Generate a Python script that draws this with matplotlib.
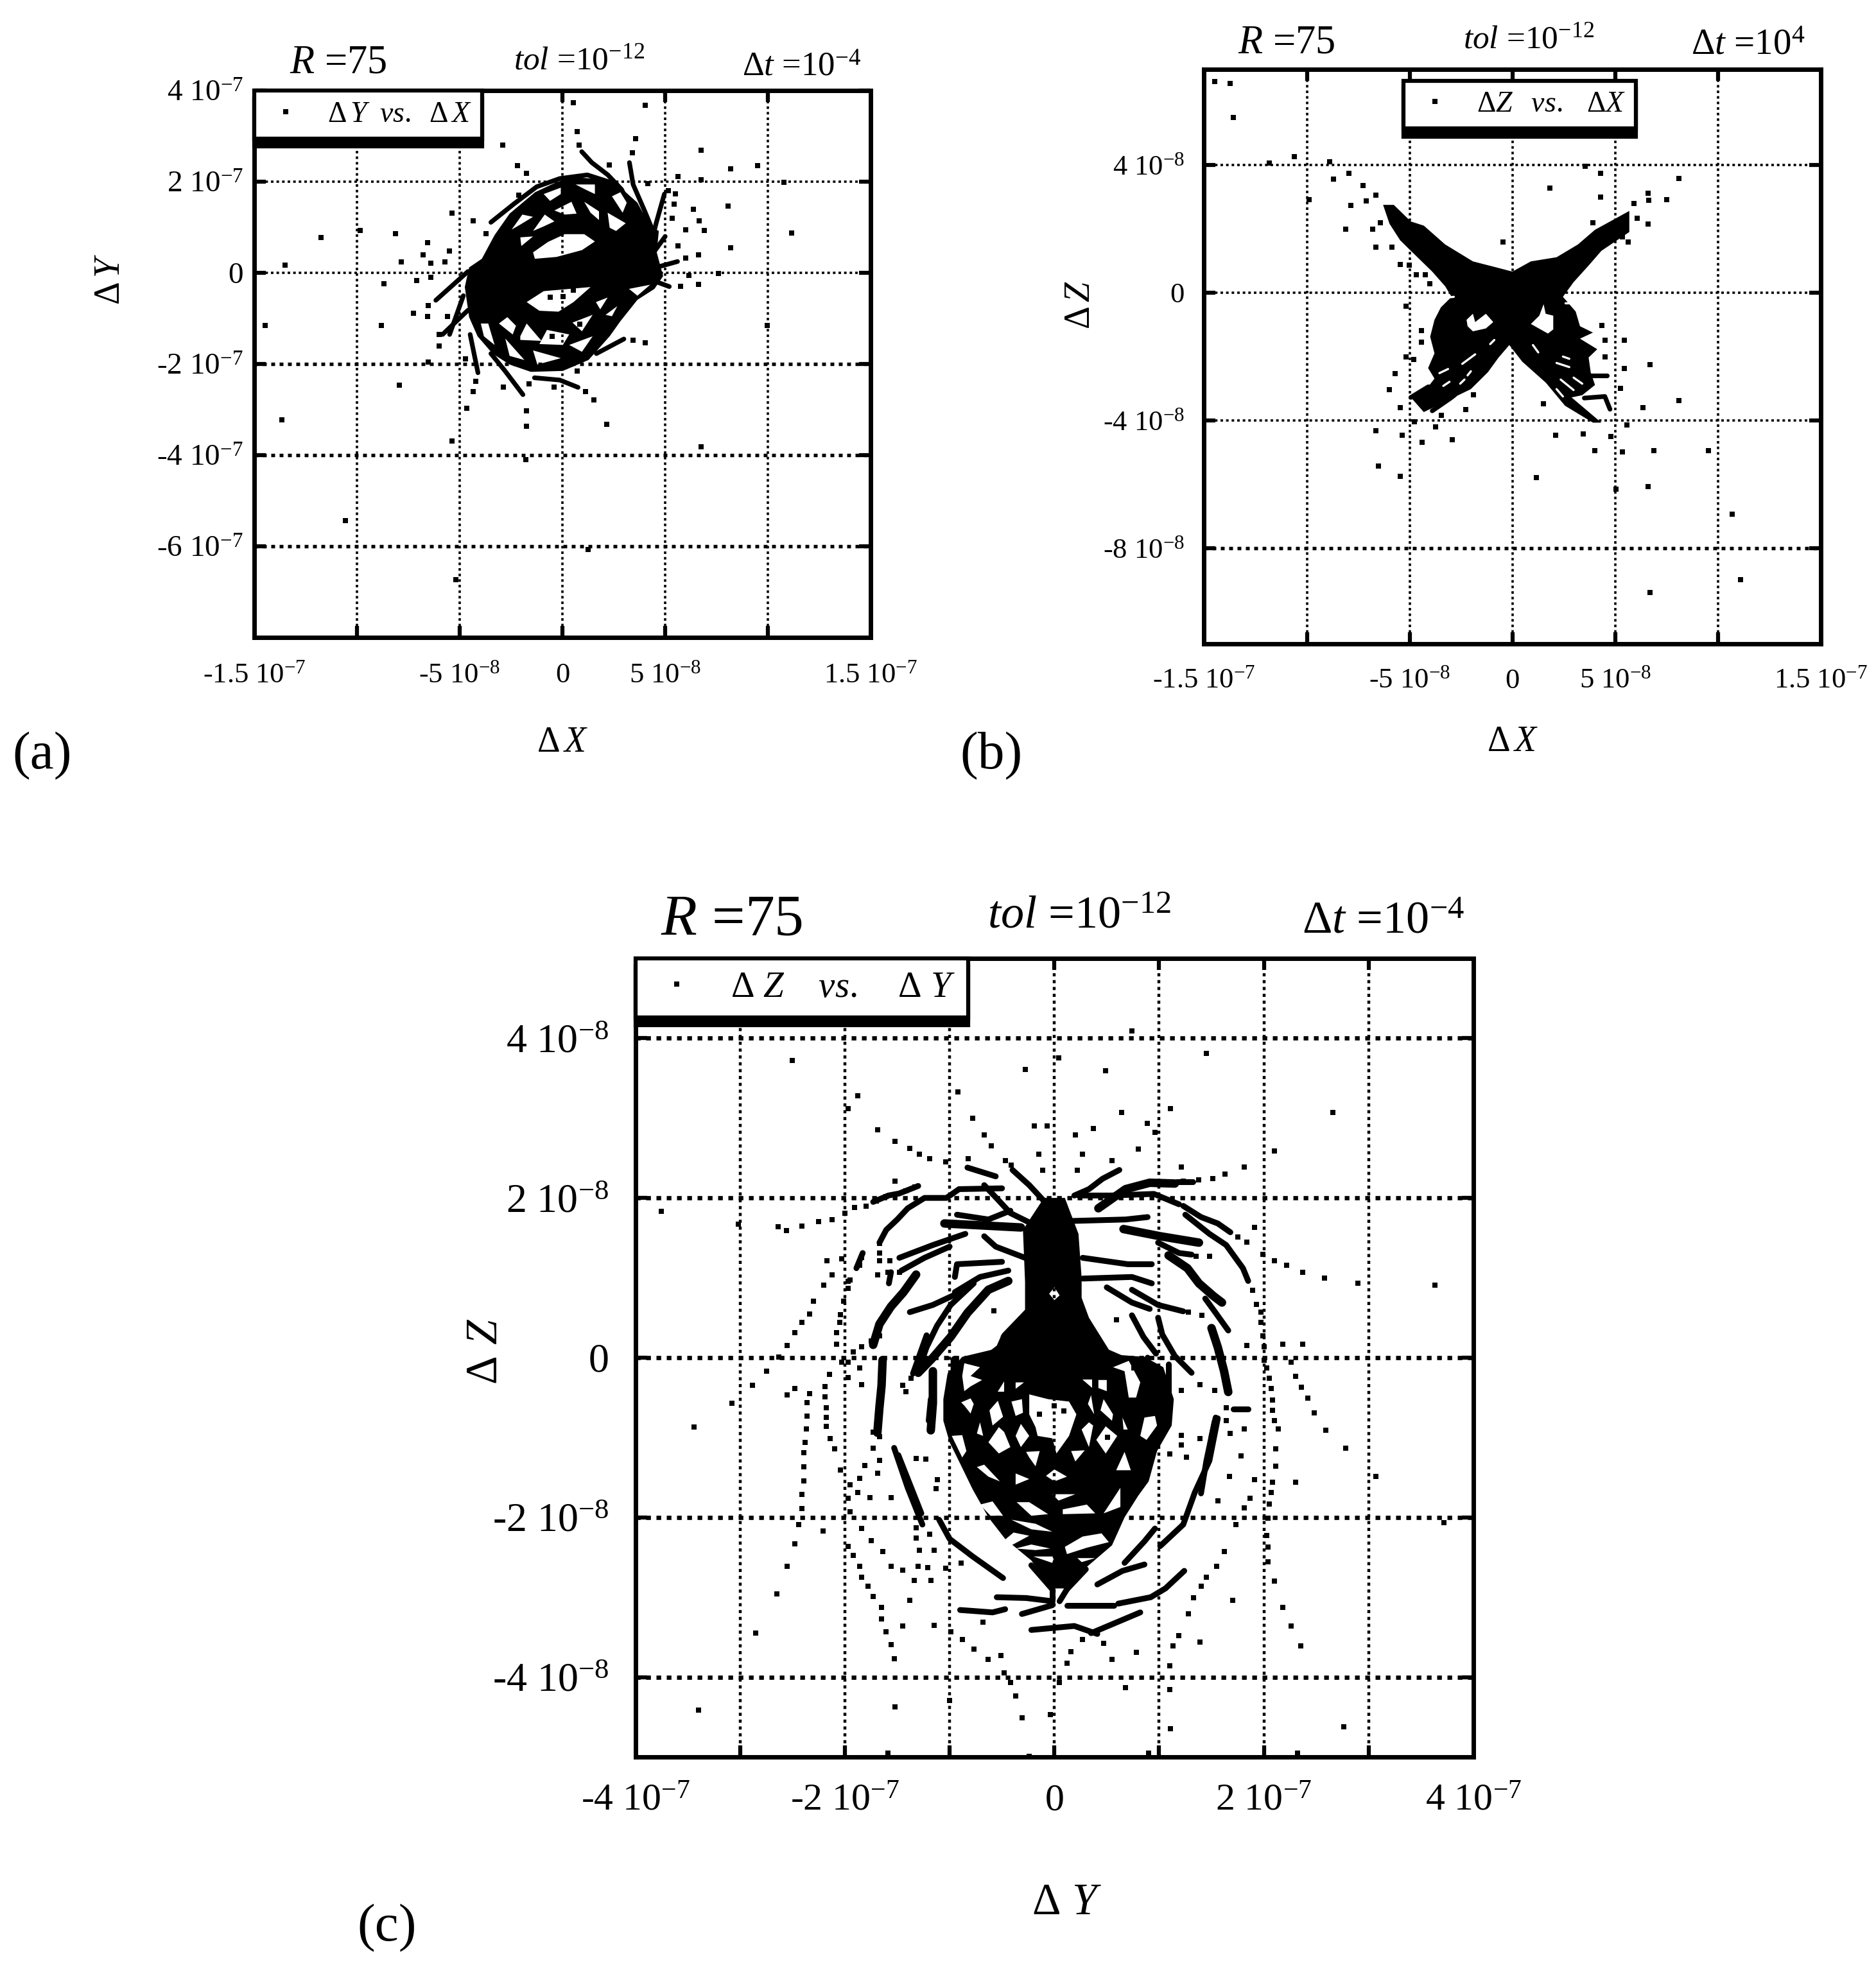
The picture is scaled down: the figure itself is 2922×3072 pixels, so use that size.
import numpy as np
import matplotlib
matplotlib.use('Agg')
import matplotlib.pyplot as plt

plt.rcParams['font.family'] = ['Liberation Serif', 'DejaVu Serif']
plt.rcParams['mathtext.fontset'] = 'custom'
plt.rcParams['mathtext.rm'] = 'Liberation Serif'
plt.rcParams['mathtext.it'] = 'Liberation Serif:italic'
plt.rcParams['mathtext.bf'] = 'Liberation Serif:bold'

# panel (a): dY vs dX, x in 1e-8, y in 1e-7
a_points = [(0.54, 3.74), (4.04, 3.67), (0.71, 3.1), (3.55, 2.94), (0.8, 2.81), (-2.9, 2.81), (3.4, 2.63),
            (6.75, 2.69), (-2.19, 2.35), (2.28, 2.37), (8.18, 2.29), (9.5, 2.35), (-1.74, 2.19), (5.63, 2.12),
            (6.75, 2.04), (10.77, 1.99), (4.15, 1.96), (-2.14, 1.71), (5.14, 1.81), (5.5, 1.73), (5.45, 1.51),
            (8.06, 1.47), (6.37, 1.4), (-5.38, 1.31), (-4.33, 1.14), (-3.71, 0.86), (5.34, 1.2), (6.66, 1.14),
            (6.9, 0.93), (6.0, 0.94), (11.15, 0.88), (-11.75, 0.78), (-9.85, 0.93), (-8.11, 0.86), (-6.57, 0.67),
            (8.18, 0.55), (5.63, 0.59), (-6.77, 0.39), (-5.49, 0.48), (-7.84, 0.24), (-6.39, 0.22), (-13.49, 0.17),
            (6.63, 0.39), (6.0, 0.33), (-5.72, 0.24), (7.6, -0.01), (6.16, -0.05), (-8.67, -0.24), (-7.1, -0.16),
            (-6.39, -0.1), (6.63, -0.25), (5.74, -0.29), (-6.54, -0.71), (-7.26, -0.89), (-6.57, -0.96),
            (-5.6, -0.96), (-14.45, -1.15), (-8.82, -1.15), (9.96, -1.15), (-5.99, -1.35), (-5.99, -1.61),
            (4.04, -1.53), (3.44, -1.47), (-6.54, -1.95), (-4.71, -1.88), (0.71, -2.15), (-7.93, -2.46),
            (-4.22, -2.38), (-4.33, -2.6), (-2.88, -2.5), (-1.63, -2.43), (-0.4, -2.5), (1.12, -2.6), (1.54, -2.79),
            (-4.67, -2.97), (-1.74, -3.02), (-1.74, -3.37), (2.14, -3.32), (-13.65, -3.22), (-5.38, -3.69),
            (6.75, -3.81), (-1.79, -4.1), (-10.56, -5.44), (1.25, -6.06), (-5.18, -6.73),
            (-0.6, -0.54), (0.02, -0.52), (0.54, -0.38), (-0.5, -1.39), (0.85, -1.13)]
a_strands = [[(-3.48, 1.11), (-2.37, 1.51), (-1.25, 1.89), (-0.13, 2.07), (1.21, 2.15), (2.32, 1.99), (3.44, 1.51), (4.33, 0.99)],
             [(0.94, 2.66), (1.43, 2.42), (2.21, 2.15), (2.88, 1.83), (3.44, 1.3), (4.0, 0.88)],
             [(3.26, 2.42), (3.44, 1.94), (4.0, 1.36), (4.44, 0.88)],
             [(4.96, 1.73), (4.56, 1.09), (4.22, 0.46)],
             [(-3.48, -1.77), (-2.81, -2.14), (-1.92, -2.67)],
             [(-1.36, -2.3), (-0.13, -2.35), (0.76, -2.51)],
             [(-4.49, -1.35), (-4.11, -2.19)],
             [(-6.16, -0.6), (-4.6, 0.03)],
             [(-5.83, -1.35), (-4.6, -0.82)],
             [(-5.49, -1.35), (-4.82, -0.5)],
             [(1.65, -1.77), (2.99, -1.45)],
             [(5.0, 0.8), (4.2, 0.3)], [(5.6, 0.25), (4.4, 0.1)], [(5.2, -0.3), (4.0, -0.1)]]
a_blob = [(-4.54, 0.12), (-3.92, 0.31), (-3.3, 0.83), (-2.57, 1.3), (-1.33, 1.77), (-0.29, 1.99), (0.54, 2.1), (1.78, 2.06),
          (2.61, 1.96), (3.65, 1.54), (4.27, 1.02), (4.69, 0.92), (4.59, 0.45), (4.9, -0.07), (4.48, -0.35), (3.65, -0.59),
          (2.82, -1.06), (2.3, -1.39), (1.27, -1.91), (0.02, -2.15), (-1.54, -2.17), (-2.57, -2.01), (-3.4, -1.77),
          (-4.13, -1.39), (-4.54, -0.97), (-4.75, -0.31)]
a_holes = [[(-1.43, 0.45), (-0.7, 0.68), (0.12, 0.85), (1.06, 0.85), (1.58, 0.69), (0.95, 0.5), (-0.29, 0.35), (-1.34, 0.31)],
           [(-1.74, -0.64), (-0.91, -0.4), (1.37, -0.31), (0.54, -0.64), (-0.19, -0.85), (-1.12, -0.83)],
           [(-0.91, 1.73), (-0.08, 1.87), (-0.08, 1.73), (-0.6, 1.58)], [(0.64, 1.94), (1.58, 1.94), (1.58, 1.73), (1.16, 1.82)],
           [(2.41, 1.68), (2.82, 1.77), (3.13, 1.54), (2.93, 1.32)], [(-0.39, 1.37), (0.44, 1.56), (0.69, 1.3), (0.12, 1.28)],
           [(1.06, 1.56), (1.78, 1.35), (1.78, 1.16), (1.37, 1.32)], [(2.2, 1.32), (3.08, 1.09), (2.61, 0.92), (2.3, 0.99)],
           [(-2.47, 0.95), (-1.95, 1.28), (-1.43, 1.23), (-2.05, 1.06)], [(-1.43, 0.92), (-0.86, 1.28), (-0.39, 1.13), (-0.91, 1.02)],
           [(-2.05, 0.78), (-1.43, 0.8), (-2.0, 0.59)], [(-3.09, -1.11), (-2.68, -0.97), (-2.26, -1.16), (-2.42, -1.35)],
           [(-2.05, -1.39), (-1.74, -1.11), (-1.02, -1.49), (-2.05, -1.47)], [(-0.75, -1.25), (0.33, -1.35), (0.02, -1.58), (-1.12, -1.56)],
           [(-3.97, -1.11), (-3.61, -1.11), (-3.3, -1.58), (-3.82, -1.39)], [(0.49, -1.09), (1.47, -0.92), (0.95, -1.28)],
           [(1.63, -0.64), (2.2, -0.54), (1.84, -0.8)], [(2.1, -0.92), (2.67, -0.73), (2.41, -0.95)],
           [(3.24, -0.35), (4.27, -0.26), (3.65, -0.5)], [(0.33, -1.58), (1.47, -1.39), (0.95, -1.73)],
           [(-2.78, -1.44), (-1.85, -1.91), (-2.57, -1.82)], [(-1.43, -1.7), (-0.08, -1.87), (-1.22, -2.01)],
           [(-4.23, -1.35), (-3.4, -1.73), (-3.9, -1.5)]]

# panel (b): dZ vs dX, x in 1e-8, y in 1e-8
b_points = [(-14.47, 6.61), (-13.74, 6.55), (-13.58, 5.49), (-11.84, 4.06), (-10.61, 4.26), (-8.89, 4.11),
            (-8.69, 3.56), (-7.97, 3.73), (-9.9, 2.91), (-7.28, 3.35), (-6.63, 3.05), (-7.1, 2.87), (-7.86, 2.73),
            (-8.11, 1.99), (-6.79, 1.98), (-6.43, 2.19), (-6.63, 1.42), (-5.85, 1.42), (-5.47, 0.89), (-5.03, 0.86),
            (-4.69, 0.56), (-4.24, 0.56), (-4.02, 0.29), (-0.45, 1.58), (1.83, 3.28), (4.29, 3.0), (4.29, 3.73),
            (3.53, 3.95), (8.09, 3.58), (7.5, 2.91), (6.59, 3.12), (6.63, 2.9), (5.92, 2.79), (6.08, 2.34),
            (6.59, 2.16), (5.65, 1.58), (5.36, 1.74), (3.91, 2.19), (4.36, -1.03), (4.51, -1.48), (5.45, -1.48),
            (4.51, -2.01), (5.45, -2.37), (6.7, -2.26), (6.34, -3.59), (8.09, -3.38), (5.58, -4.14), (5.25, -3.0),
            (3.46, -4.42), (2.12, -4.47), (4.02, -4.95), (4.78, -4.5), (5.36, -4.98), (6.88, -4.95), (9.54, -4.95),
            (5.03, -6.16), (6.61, -6.07), (1.16, -5.8), (10.7, -6.93), (11.1, -8.98), (6.7, -9.39), (1.52, -3.47),
            (-6.63, -4.33), (-5.36, -4.47), (-4.38, -4.68), (-2.93, -4.6), (-3.75, -4.2), (-4.76, -4.05),
            (-5.45, -3.59), (-5.99, -3.03), (-5.7, -2.54), (-6.52, -5.42), (-5.47, -5.75), (-2.28, -3.65),
            (-1.9, -3.2), (-3.46, -3.85), (-5.18, -2.01), (-4.42, -1.18), (-4.42, -1.55), (-4.8, -2.1), (-5.18, -0.42)]
b_strands = [[(-4.94, -3.28), (-4.1, -2.95), (-2.5, -2.95)], [(-3.9, -3.7), (-3.0, -3.3), (-2.8, -3.2)],
             [(3.5, -3.3), (4.5, -3.25), (4.75, -3.65)], [(3.6, -2.6), (4.6, -2.6)]]
b_blob = [(-6.29, 2.75), (-5.77, 2.75), (-4.94, 2.23), (-4.31, 2.1), (-3.27, 1.51), (-1.92, 0.98), (-0.77, 0.79), (0.0, 0.66),
          (0.9, 0.98), (2.15, 1.11), (3.19, 1.51), (4.02, 1.97), (5.69, 2.56), (5.69, 1.9), (4.33, 1.31), (3.71, 0.85),
          (2.98, 0.33), (2.46, -0.13), (3.08, -0.59), (3.29, -1.05), (3.92, -1.25), (3.29, -1.44), (4.13, -1.77), (3.71, -2.03),
          (3.81, -2.49), (4.02, -2.89), (3.4, -3.21), (2.88, -3.28), (4.33, -4.07), (3.92, -4.07), (2.56, -3.54), (1.63, -2.82),
          (0.48, -2.16), (-0.15, -1.64), (-0.67, -2.03), (-1.19, -2.49), (-2.02, -3.02), (-2.85, -3.28), (-4.31, -3.74),
          (-4.94, -3.28), (-4.1, -2.95), (-3.79, -2.69), (-4.1, -2.36), (-3.79, -1.9), (-4.0, -1.38), (-3.79, -0.85),
          (-3.48, -0.46), (-2.96, -0.13), (-3.27, 0.2), (-3.9, 0.66), (-4.73, 1.18), (-5.46, 1.64), (-5.98, 2.16)]
b_holes = [[(-2.23, -0.85), (-1.92, -0.66), (-1.81, -0.92), (-1.29, -0.66), (-0.93, -0.92), (-1.29, -1.12), (-1.92, -1.21), (-2.18, -1.05)],
           [(1.52, -0.36), (1.62, -0.66), (1.99, -0.72), (1.99, -1.15), (1.73, -1.28), (0.9, -0.98), (1.31, -0.72)]]
b_streaks = [[(-2.44, -2.23), (-1.81, -1.93)], [(-1.08, -1.61), (-0.88, -1.48)], [(-3.55, -2.52), (-3.13, -2.39)],
             [(-3.36, -2.92), (-3.06, -2.79)], [(-2.54, -2.85), (-2.33, -2.72)], [(-2.18, -2.59), (-2.02, -2.46)],
             [(2.15, -2.2), (2.77, -2.33)], [(2.46, -2.0), (2.77, -2.07)], [(2.35, -2.72), (2.98, -3.05)],
             [(2.98, -2.66), (3.4, -2.85)], [(1.0, -1.64), (1.26, -1.87)], [(2.15, -3.02), (2.46, -3.25)],
             [(-3.32, -0.16), (-2.85, -0.13)], [(2.56, -0.16), (3.08, -0.16)], [(2.56, -0.33), (2.98, -0.33)], [(3.29, -0.66), (3.29, -0.92)]]

# panel (c): dZ vs dY, x in 1e-7, y in 1e-8
c_points = [(0.74, 4.09), (1.45, 3.81), (-2.5, 3.72), (0.04, 3.75), (-0.28, 3.61), (0.49, 3.59), (-0.92, 3.33),
            (-1.88, 3.28), (-1.97, 3.12), (1.11, 3.12), (0.64, 3.07), (2.66, 3.07), (-0.78, 3.0), (-0.19, 2.9),
            (-0.07, 2.9), (0.37, 2.87), (0.89, 2.93), (0.96, 2.82), (-1.69, 2.85), (-0.67, 2.79), (0.2, 2.79),
            (-1.52, 2.71), (-1.38, 2.62), (-0.6, 2.65), (2.1, 2.59), (0.8, 2.61), (-0.15, 2.55), (0.27, 2.55),
            (-1.29, 2.55), (-1.19, 2.49), (-0.82, 2.49), (-1.04, 2.45), (-0.47, 2.47), (0.55, 2.47), (1.81, 2.39),
            (1.21, 2.39), (1.63, 2.3), (1.51, 2.24), (1.38, 2.23), (1.23, 2.21), (-1.52, 2.21), (-0.11, 2.35),
            (-0.41, 2.41), (0.22, 2.35), (-3.75, 1.83), (-3.02, 1.67), (-2.64, 1.64), (-2.56, 1.59), (-2.41, 1.65),
            (-2.25, 1.7), (-2.12, 1.73), (-2.0, 1.81), (-1.91, 1.88), (-1.8, 1.9), (-1.7, 1.96), (-1.61, 2.02),
            (-1.51, 2.05), (-1.42, 2.09), (-1.33, 2.14), (0.0, -0.6), (0.09, -0.67), (-0.14, -0.71), (0.51, -1.0), (0.76, -0.13)]
c_left_arcs = [(-2.17, 1.21), (-2.03, 1.24), (-2.12, 1.04), (-1.97, 0.96), (-2.2, 0.91), (-2.3, 0.71), (-2.34, 0.55),
               (-2.41, 0.44), (-2.48, 0.31), (-2.55, 0.15), (-2.63, 0.01), (-2.75, -0.17), (-2.88, -0.35), (-3.08, -0.57),
               (-3.44, -0.87), (-1.84, 1.25), (-1.86, 1.16), (-1.95, 0.97), (-1.97, 0.87), (-2.01, 0.71), (-2.04, 0.54),
               (-2.05, 0.44), (-2.08, 0.31), (-2.08, 0.17), (-2.03, -0.06), (-1.97, -0.06), (-2.15, -0.21), (-1.97, -0.25),
               (-2.19, -0.36), (-2.19, -0.49), (-2.18, -0.63), (-2.18, -0.75), (-2.18, -0.86), (-2.14, -1.01), (-2.1, -1.14),
               (-2.04, -1.41), (-1.95, -1.59), (-1.86, -1.51), (-1.97, -1.76), (-1.88, -1.69), (-1.76, -1.75), (-1.56, -1.75),
               (-1.95, -1.93), (-2.34, -0.45), (-2.48, -0.39), (-2.55, -0.47), (-2.36, -0.56), (-2.36, -0.73), (-2.37, -0.89),
               (-2.38, -1.06), (-2.39, -1.19), (-2.39, -1.37), (-2.39, -1.54), (-2.41, -1.71), (-2.41, -1.89), (-2.44, -2.09),
               (-2.48, -2.33), (-2.55, -2.61), (-2.65, -2.96), (-2.85, -3.45), (-3.4, -4.41), (-1.32, -1.26), (-1.23, -1.27),
               (-1.12, -1.53), (-1.13, -1.64), (-1.81, -1.35), (-1.69, -1.45), (-1.67, -1.29), (-1.73, -1.13), (-1.67, -0.99),
               (-1.73, -0.93), (-1.84, -0.34), (-1.86, -0.13), (-1.45, -0.35), (-1.42, -0.43), (-1.37, -0.26), (-1.67, 0.27),
               (-1.75, 0.21), (-1.84, 0.14), (-1.92, 0.07), (-1.67, 1.43), (-1.67, 1.31), (-1.67, 1.21), (-1.69, 1.04),
               (-1.57, 1.21), (-1.59, 1.07), (-1.48, 1.07), (-0.58, 0.59), (0.59, 0.47), (-1.32, -2.13), (-1.32, -2.26),
               (-1.19, -2.21), (-1.29, -2.41), (-1.15, -2.41), (-0.89, -2.57), (-1.04, -2.64), (-1.3, -2.61), (-1.21, -2.63)]
c_low_arcs = [(-1.84, -2.14), (-1.97, -2.36), (-1.92, -2.48), (-1.86, -2.61), (-1.84, -2.75), (-1.78, -2.86), (-1.73, -2.99),
              (-1.65, -3.13), (-1.65, -3.27), (-1.61, -3.43), (-1.56, -3.59), (-1.53, -3.77), (-1.52, -4.37), (-1.59, -4.95),
              (-1.75, -2.29), (-1.64, -2.43), (-1.56, -2.61), (-1.45, -2.66), (-1.34, -2.79), (-1.18, -2.79), (-1.38, -3.04),
              (-1.45, -3.36), (-1.15, -3.35), (-0.99, -3.43), (-0.88, -3.53), (-0.77, -3.65), (-0.63, -3.78), (-0.51, -3.73),
              (-0.48, -3.95), (-0.42, -4.07), (-0.37, -4.24), (-0.31, -4.51), (-0.04, -4.47), (-1.0, -4.29), (-0.24, -4.99),
              (0.05, -4.07), (-0.68, -3.31), (-2.21, -2.17), (0.12, -3.83), (0.16, -3.68), (0.27, -3.53), (0.47, -3.58),
              (0.55, -3.78), (0.78, -3.69), (1.1, -3.86), (0.68, -4.13), (1.1, -4.16), (1.11, -4.65), (0.9, -4.95),
              (1.13, -3.61), (1.19, -3.48), (1.39, -3.56), (1.28, -3.21), (1.33, -3.01), (1.4, -2.86), (1.45, -2.75),
              (1.55, -2.61), (1.62, -2.43), (1.7, -3.04), (1.73, -2.09), (1.81, -1.88), (1.87, -1.76), (1.91, -1.53)]
c_right_arcs = [(2.08, -1.56), (2.07, -1.69), (2.05, -1.83), (2.04, -2.01), (2.03, -2.23), (2.04, -2.37), (2.04, -2.56),
                (2.1, -2.8), (2.18, -3.13), (2.26, -3.36), (2.35, -3.61), (2.32, -4.95), (2.76, -4.62), (2.3, -1.56),
                (3.07, -1.49), (3.72, -2.07), (2.11, -1.36), (2.11, -1.14), (2.14, -0.89), (2.1, -0.79), (2.08, -0.66),
                (2.08, -0.53), (2.07, -0.39), (2.05, -0.26), (2.03, -0.13), (2.0, -0.03), (2.0, 0.14), (1.99, 0.27),
                (1.97, 0.44), (1.97, 0.57), (1.93, 0.67), (1.89, 0.84), (2.1, 1.21), (2.22, 1.16), (2.37, 1.07), (2.58, 1.0),
                (2.9, 0.93), (3.63, 0.91), (2.37, 0.17), (2.18, 0.17), (2.26, -0.06), (2.3, -0.23), (2.36, -0.37), (2.42, -0.51),
                (2.48, -0.69), (2.59, -0.91), (2.78, -1.13), (1.78, -0.64), (1.64, -0.63), (1.64, -0.79), (1.68, -0.95),
                (1.81, -0.89), (1.78, -1.23), (1.67, -1.49), (1.56, -1.79), (1.39, -1.01), (1.21, -0.97), (1.21, -1.09),
                (1.1, -1.21), (1.26, -1.25), (1.91, 1.63), (1.84, 1.45), (1.75, 1.51), (1.99, 1.29), (1.48, 1.27), (1.35, 1.27),
                (1.28, 0.57), (1.41, 0.53), (1.84, 0.15), (1.53, -0.41), (1.39, -0.34), (1.21, -0.41)]
c_strands = [[(-1.73, 1.95), (-1.585, 2.03), (-1.483, 2.055), (-1.3, 2.15)],
             [(-1.67, 1.44), (-1.605, 1.6), (-1.5, 1.73), (-1.4, 1.87), (-1.24, 2.0), (-1.03, 2.0), (-0.91, 2.11), (-0.5, 2.12)],
             [(-0.93, 1.79), (-0.63, 1.73), (-0.42, 1.84)], [(-1.48, 1.25), (-1.16, 1.41), (-0.85, 1.55)],
             [(-1.46, 1.09), (-1.24, 1.25), (-1.0, 1.39)], [(-1.38, 0.57), (-1.16, 0.66), (-0.93, 0.8), (-0.77, 0.96)],
             [(-0.77, 0.93), (-0.99, 0.66), (-1.12, 0.4), (-1.22, 0.13), (-1.3, -0.17)],
             [(-0.5, 1.2), (-0.93, 1.17), (-0.95, 1.01)], [(-0.44, 1.09), (-0.71, 1.01), (-0.95, 0.82)],
             [(-0.67, 1.52), (-0.56, 1.39), (-0.28, 1.25)], [(-0.83, 2.38), (-0.56, 2.27)], [(-0.4, 2.35), (-0.24, 2.16), (-0.07, 1.92)],
             [(-0.67, 2.16), (-0.54, 1.98), (-0.42, 1.81), (-0.22, 1.68)], [(-1.83, 1.31), (-1.89, 1.12)], [(-1.56, 1.07), (-1.58, 0.93)],
             [(0.23, 2.03), (0.54, 2.03), (0.95, 2.05), (1.19, 1.92)], [(1.23, 1.9), (1.4, 1.76), (1.56, 1.68), (1.68, 1.57)],
             [(1.25, 1.79), (1.48, 1.55), (1.64, 1.41), (1.8, 1.12), (1.85, 0.96)], [(0.13, 1.71), (0.68, 1.73), (0.89, 1.76)],
             [(0.99, 1.44), (1.19, 1.31), (1.31, 1.29)], [(1.44, 0.74), (1.54, 0.56), (1.66, 0.34)], [(0.27, 1.25), (0.7, 1.17), (0.93, 1.17)],
             [(0.27, 0.99), (0.74, 1.01), (0.93, 0.93)], [(0.5, 0.88), (0.74, 0.69), (0.91, 0.61)], [(0.74, 0.85), (0.99, 0.66), (1.23, 0.58)],
             [(0.74, 0.53), (0.85, 0.26), (0.97, 0.05)], [(0.99, 0.5), (1.03, 0.29), (1.15, 0.02), (1.31, -0.19)],
             [(0.89, 0.0), (0.91, -0.57)], [(1.09, -0.08), (1.09, -0.65)], [(1.54, -0.75), (1.5, -0.99)], [(0.62, 2.35), (0.46, 2.24), (0.33, 2.11), (0.19, 2.03)],
             [(1.17, 2.2), (1.32, 2.2)], [(1.71, -0.64), (1.85, -0.64)],
             [(1.56, -0.76), (1.48, -1.29), (1.34, -1.69), (1.23, -2.09), (1.01, -2.36)],
             [(-1.53, -1.13), (-1.4, -1.63), (-1.26, -2.09)], [(-1.1, -2.03), (-1.0, -2.27), (-0.78, -2.49), (-0.49, -2.76)],
             [(-0.55, -3.0), (-0.27, -3.01), (-0.02, -3.05)], [(0.12, -3.1), (0.57, -3.1)], [(-0.9, -3.16), (-0.59, -3.19), (-0.47, -3.15)],
             [(-0.31, -3.21), (-0.02, -3.1)], [(-0.22, -3.41), (0.19, -3.36), (0.41, -3.46)], [(0.35, -3.45), (0.82, -3.19)],
             [(0.61, -3.08), (0.92, -3.0), (1.06, -2.89), (1.24, -2.67)], [(0.41, -2.84), (0.65, -2.67), (0.86, -2.59)],
             [(0.67, -2.57), (0.86, -2.3), (0.96, -2.14)], [(-1.22, 0.28), (-1.35, -0.2)], [(-1.18, -0.52), (-1.2, -0.79)],
             [(1.4, -1.7), (1.45, -1.3), (1.53, -0.8)], [(-1.49, -1.22), (-1.27, -1.95)],
             [(-0.02, -2.9), (-0.02, -3.05)], [(0.12, -2.9), (0.05, -3.05)], [(0.3, -2.65), (0.12, -2.9)], [(-0.22, -2.6), (-0.02, -2.9)]]
c_thick = [[(-1.05, 1.68), (-0.32, 1.63)], [(-1.32, 1.04), (-1.44, 0.82), (-1.56, 0.64), (-1.67, 0.42), (-1.73, 0.16)],
           [(-0.44, 0.96), (-0.63, 0.85), (-0.83, 0.56), (-0.99, 0.26), (-1.16, 0.0), (-1.3, -0.19)],
           [(-1.64, -0.03), (-1.65, -0.35), (-1.67, -0.62), (-1.69, -0.94)], [(-1.16, -0.17), (-1.16, -0.57), (-1.18, -0.91)],
           [(-0.95, -0.03), (-0.95, -0.57), (-0.91, -0.91)], [(0.42, 1.87), (0.68, 2.11), (0.91, 2.19), (1.15, 2.18)],
           [(0.66, 1.61), (1.01, 1.52), (1.38, 1.44)], [(1.09, 1.28), (1.27, 1.12), (1.38, 0.93), (1.52, 0.77), (1.6, 0.69)],
           [(1.5, 0.37), (1.56, 0.13), (1.62, -0.17), (1.66, -0.43)]]
c_trunk = [(-0.1, 2.0), (-0.3, 1.6), (-0.28, 0.95), (-0.28, 0.6), (-0.5, 0.3), (-0.55, 0.15), (-0.7, 0.0), (-0.36, -0.23), (0.0, -0.29),
           (0.36, -0.23), (0.66, 0.02), (0.52, 0.1), (0.33, 0.5), (0.26, 0.75), (0.26, 1.0), (0.23, 1.55), (0.1, 2.0)]
c_web = [(-0.51, 0.28), (-0.53, 0.12), (-0.88, 0.01), (-1.02, -0.2), (-1.06, -0.52), (-1.06, -0.79), (-1.0, -1.06), (-0.88, -1.38),
         (-0.78, -1.65), (-0.63, -2.0), (-0.47, -2.27), (-0.22, -2.54), (-0.02, -2.89), (0.12, -2.89), (0.31, -2.62), (0.55, -2.35),
         (0.67, -2.0), (0.8, -1.73), (0.9, -1.55), (0.98, -1.17), (1.12, -0.85), (1.14, -0.52), (1.04, -0.12), (0.86, 0.01),
         (0.55, 0.04), (0.41, 0.28)]
c_holes = [[(-0.86, -0.07), (-0.71, -0.12), (-0.8, -0.23), (-0.69, -0.28), (-0.8, -0.36), (-0.86, -0.42), (-0.88, -0.23)],
           [(-0.89, -0.56), (-0.8, -0.51), (-0.77, -0.58), (-0.8, -0.7), (-0.86, -0.6)], [(-0.54, -0.54), (-0.49, -0.74), (-0.59, -0.85), (-0.62, -0.66)],
           [(-0.41, -0.55), (-0.31, -0.52), (-0.3, -0.69), (-0.37, -0.73)],
           [(-0.24, -0.46), (-0.06, -0.52), (0.14, -0.55), (0.21, -0.71), (0.14, -0.98), (0.02, -1.2), (-0.02, -1.01), (-0.16, -0.98), (-0.18, -0.87), (-0.24, -0.71)],
           [(0.35, -0.47), (0.38, -0.71), (0.32, -0.58)], [(0.47, -0.52), (0.56, -0.71), (0.55, -0.79), (0.44, -0.66)],
           [(0.86, -0.75), (0.96, -0.73), (0.98, -0.85), (0.88, -1.03), (0.82, -0.98)], [(0.65, -0.75), (0.7, -0.9), (0.66, -0.9)],
           [(0.33, -0.81), (0.37, -0.85), (0.33, -1.12), (0.26, -0.9)], [(0.49, -0.86), (0.6, -0.98), (0.49, -1.2), (0.4, -1.03)],
           [(-0.71, -0.81), (-0.68, -0.98), (-0.74, -0.95)], [(-0.53, -0.87), (-0.48, -0.93), (-0.42, -1.12), (-0.53, -1.2), (-0.63, -1.06)],
           [(-0.32, -0.83), (-0.24, -0.98), (-0.32, -1.12), (-0.37, -0.98)], [(-0.98, -0.98), (-0.88, -0.97), (-0.84, -1.17), (-0.88, -1.25)],
           [(-0.27, -1.18), (-0.14, -1.17), (-0.18, -1.36), (-0.24, -1.25)], [(0.16, -1.17), (0.29, -1.16), (0.2, -1.3)],
           [(0.67, -1.18), (0.73, -1.41), (0.59, -1.41)], [(-0.08, -1.48), (0.0, -1.4), (0.12, -1.49), (0.0, -1.55)],
           [(-0.74, -1.37), (-0.67, -1.34), (-0.52, -1.55), (-0.63, -1.49)], [(-0.37, -1.45), (-0.24, -1.52), (-0.37, -1.59)],
           [(-0.71, -1.84), (-0.59, -1.8), (-0.49, -1.98), (-0.61, -1.98)], [(-0.36, -1.81), (-0.24, -1.81), (-0.06, -1.96), (-0.22, -1.98)],
           [(-0.02, -1.71), (0.2, -1.71), (0.04, -1.79)], [(0.08, -1.9), (0.31, -1.84), (0.39, -1.95), (0.08, -1.96)],
           [(0.1, -2.37), (0.27, -2.24), (0.45, -2.2), (0.52, -2.31), (0.31, -2.38), (0.12, -2.46)], [(-0.37, -2.39), (-0.22, -2.34), (-0.04, -2.39), (-0.18, -2.41)],
           [(-0.41, -2.03), (-0.18, -2.08), (-0.02, -2.18), (-0.22, -2.15)], [(-0.49, -2.3), (-0.39, -2.19), (-0.24, -2.23), (-0.41, -2.35)],
           [(-0.2, -2.49), (0.0, -2.49), (-0.02, -2.57)], [(0.22, -2.51), (0.39, -2.51), (0.26, -2.56)], [(0.63, -1.63), (0.63, -1.87), (0.47, -1.95)],
           [(0.56, -0.12), (0.71, -0.04), (0.82, -0.31), (0.78, -0.5), (0.71, -0.5), (0.67, -0.17)], [(0.27, -0.27), (0.36, -0.27), (0.36, -0.38)],
           [(0.42, -0.28), (0.5, -0.28), (0.5, -0.42), (0.42, -0.38)], [(-0.48, -0.3), (-0.48, -0.43), (-0.54, -0.43)],
           [(-0.37, -0.31), (-0.29, -0.31), (-0.37, -0.39)], [(-0.05, 0.8), (0.0, 0.88), (0.05, 0.78), (0.0, 0.72)]]

xticks_ab = [-10, -5, 0, 5, 10]
xlabels_ab = ['', r'-5 10$^{-8}$', '0', r'5 10$^{-8}$', '']
xends_ab = [(-15, r'-1.5 10$^{-7}$'), (15, r'1.5 10$^{-7}$')]
a_yticks = [4, 2, 0, -2, -4, -6]
a_ylabels = [r'4 10$^{-7}$', r'2 10$^{-7}$', '0', r'-2 10$^{-7}$', r'-4 10$^{-7}$', r'-6 10$^{-7}$']
b_yticks = [4, 0, -4, -8]
b_ylabels = [r'4 10$^{-8}$', '0', r'-4 10$^{-8}$', r'-8 10$^{-8}$']
c_xticks = [-3, -2, -1, 0, 1, 2, 3]
c_xlabels = ['', r'-2 10$^{-7}$', '', '0', '', r'2 10$^{-7}$', '']
c_xends = [(-4, r'-4 10$^{-7}$'), (4, r'4 10$^{-7}$')]
c_yticks = [4, 2, 0, -2, -4]
c_ylabels = [r'4 10$^{-8}$', r'2 10$^{-8}$', '0', r'-2 10$^{-8}$', r'-4 10$^{-8}$']


def draw_pts(ax, pts, ms):
    arr = np.array(pts)
    ax.plot(arr[:, 0], arr[:, 1], 's', color='k', ms=ms, mew=0, zorder=2)


def draw_strands(ax, strands, lw, color='k', zorder=1):
    for s in strands:
        arr = np.array(s)
        ax.plot(arr[:, 0], arr[:, 1], '-', color=color, lw=lw, zorder=zorder, solid_capstyle='round')


def fill_blob(ax, blob, color='k', zorder=1):
    arr = np.array(blob)
    ax.fill(arr[:, 0], arr[:, 1], color=color, lw=0, zorder=zorder)


def setup_axes(ax, xlim, ylim, xticks, xlabels, yticks, ylabels, xends, fs, yfs, xpad, ypad, grid_lw, bold_y):
    ax.set_xlim(xlim)
    ax.set_ylim(ylim)
    ax.set_xticks(xticks)
    ax.set_xticklabels(xlabels)
    ax.set_yticks(yticks)
    ax.set_yticklabels(ylabels)
    ax.tick_params(axis='x', direction='in', length=13, width=4.5, top=True, labelsize=fs, pad=xpad)
    ax.tick_params(axis='y', direction='in', length=13, width=4.5, right=True, labelsize=yfs, pad=ypad)
    # black grid goes over the black marks, so it stays visible inside the white gaps
    ax.grid(True, color='k', lw=grid_lw, ls=(0, (1.1, 1.3)))
    ax.set_axisbelow(False)
    for tick, line in zip(yticks, ax.get_ygridlines()):
        if tick in bold_y:
            line.set_linewidth(grid_lw * 1.5)
    for sp in ax.spines.values():
        sp.set_linewidth(5)
        sp.set_zorder(5)
    for x, lab in xends:
        ax.annotate(lab, (x, 0), xycoords=ax.get_xaxis_transform(), xytext=(0, -xpad), textcoords='offset points',
                    ha='center', va='top', fontsize=fs, annotation_clip=False)


def titles(fig, items):
    for x, y, s, fs in items:
        fig.text(x / 1491, 1 - y / 1568, s, fontsize=fs, ha='left', va='baseline')


def add_legend(ax, label, anchor, fs, ms, hlen):
    h, = ax.plot([], [], 's', color='k', ms=ms, mew=0, label=label)
    leg = ax.legend(handles=[h], loc='upper left', bbox_to_anchor=anchor, borderaxespad=0, fontsize=fs,
                    fancybox=False, framealpha=1, edgecolor='k', handletextpad=0.7, handlelength=hlen,
                    borderpad=0.35, shadow={'color': 'k', 'alpha': 1, 'ox': 0, 'oy': -9, 'shade': 0})
    leg.get_frame().set_linewidth(4.5)
    leg.set_zorder(6)


fig = plt.figure(figsize=(29.22, 30.72), dpi=100)


def place(l, r, t, b):
    return fig.add_axes([l / 1491, 1 - b / 1568, (r - l) / 1491, (b - t) / 1568])


# (a)
ax_a = place(202, 692, 72, 507)
setup_axes(ax_a, (-15, 15), (-8, 4), xticks_ab, xlabels_ab, a_yticks, a_ylabels, xends_ab, 32, 34, 28, 12, 2.6, [-2, -4, -6])
fill_blob(ax_a, a_blob)
draw_strands(ax_a, a_strands, 5.2)
for hole in a_holes:
    fill_blob(ax_a, hole, color='w', zorder=1.5)
draw_pts(ax_a, a_points, 5.8)
add_legend(ax_a, r'$\Delta\,Y$ $\;\mathit{vs.}\;$ $\Delta\,X$', (0.0, 1.0), 33, 5.5, 1.45)
ax_a.set_xlabel(r'$\Delta\,X$', fontsize=40)
ax_a.xaxis.set_label_coords(0.5, -0.162)
ax_a.set_ylabel(r'$\Delta\,Y$', fontsize=40)
ax_a.yaxis.set_label_coords(-0.206, 0.655)

# (b)
ax_b = place(957, 1447, 55, 512)
setup_axes(ax_b, (-15, 15), (-11, 7), xticks_ab, xlabels_ab, b_yticks, b_ylabels, xends_ab, 32, 32, 27, 22, 2.6, [-8])
fill_blob(ax_b, b_blob)
draw_strands(ax_b, b_strands, 5.2)
for hole in b_holes:
    fill_blob(ax_b, hole, color='w', zorder=1.5)
draw_strands(ax_b, b_streaks, 2.4, color='w', zorder=1.5)
draw_pts(ax_b, b_points, 5.8)
add_legend(ax_b, r'$\Delta Z$ $\;\;\mathit{vs.}\;\;$ $\Delta X$', (0.323, 0.98), 33, 5.5, 1.45)
ax_b.set_xlabel(r'$\Delta\,X$', fontsize=40)
ax_b.xaxis.set_label_coords(0.5, -0.142)
ax_b.set_ylabel(r'$\Delta\,Z$', fontsize=40)
ax_b.yaxis.set_label_coords(-0.173, 0.59)

# (c)
ax_c = place(505, 1171, 762, 1397)
setup_axes(ax_c, (-4, 4), (-5, 5), c_xticks, c_xlabels, c_yticks, c_ylabels, c_xends, 43, 46, 30, 30, 3.2, [4, 2, 0, -2, -4])
fill_blob(ax_c, c_trunk)
fill_blob(ax_c, c_web)
draw_strands(ax_c, c_strands, 6.5)
draw_strands(ax_c, c_thick, 9.5)
for hole in c_holes:
    fill_blob(ax_c, hole, color='w', zorder=1.5)
for pts in (c_points, c_left_arcs, c_low_arcs, c_right_arcs):
    draw_pts(ax_c, pts, 6.3)
add_legend(ax_c, r'$\Delta$ $Z$   $\;\mathit{vs.}\;$   $\Delta$ $Y$', (0.0, 1.0), 41, 6.0, 1.55)
ax_c.set_xlabel(r'$\Delta$ $Y$', fontsize=50)
ax_c.xaxis.set_label_coords(0.515, -0.158)
ax_c.set_ylabel(r'$\Delta$ $Z$', fontsize=50)
ax_c.yaxis.set_label_coords(-0.154, 0.508)

titles(fig, [(230, 58, r'$R$ =75', 45), (408, 55, r'$tol$ =10$^{-12}$', 37), (590, 60, r'$\Delta t$ =10$^{-4}$', 38),
             (984, 42, r'$R$ =75', 45), (1163, 38, r'$tol$ =10$^{-12}$', 37), (1344, 43, r'$\Delta t$ =10$^{4}$', 41),
             (525, 744, r'$R$ =75', 66), (785, 738, r'$tol$ =10$^{-12}$', 52), (1035, 742, r'$\Delta t$ =10$^{-4}$', 52),
             (10, 611, '(a)', 60), (763, 611, '(b)', 60), (284, 1543, '(c)', 60)])

fig.savefig('out.png', dpi=100)
